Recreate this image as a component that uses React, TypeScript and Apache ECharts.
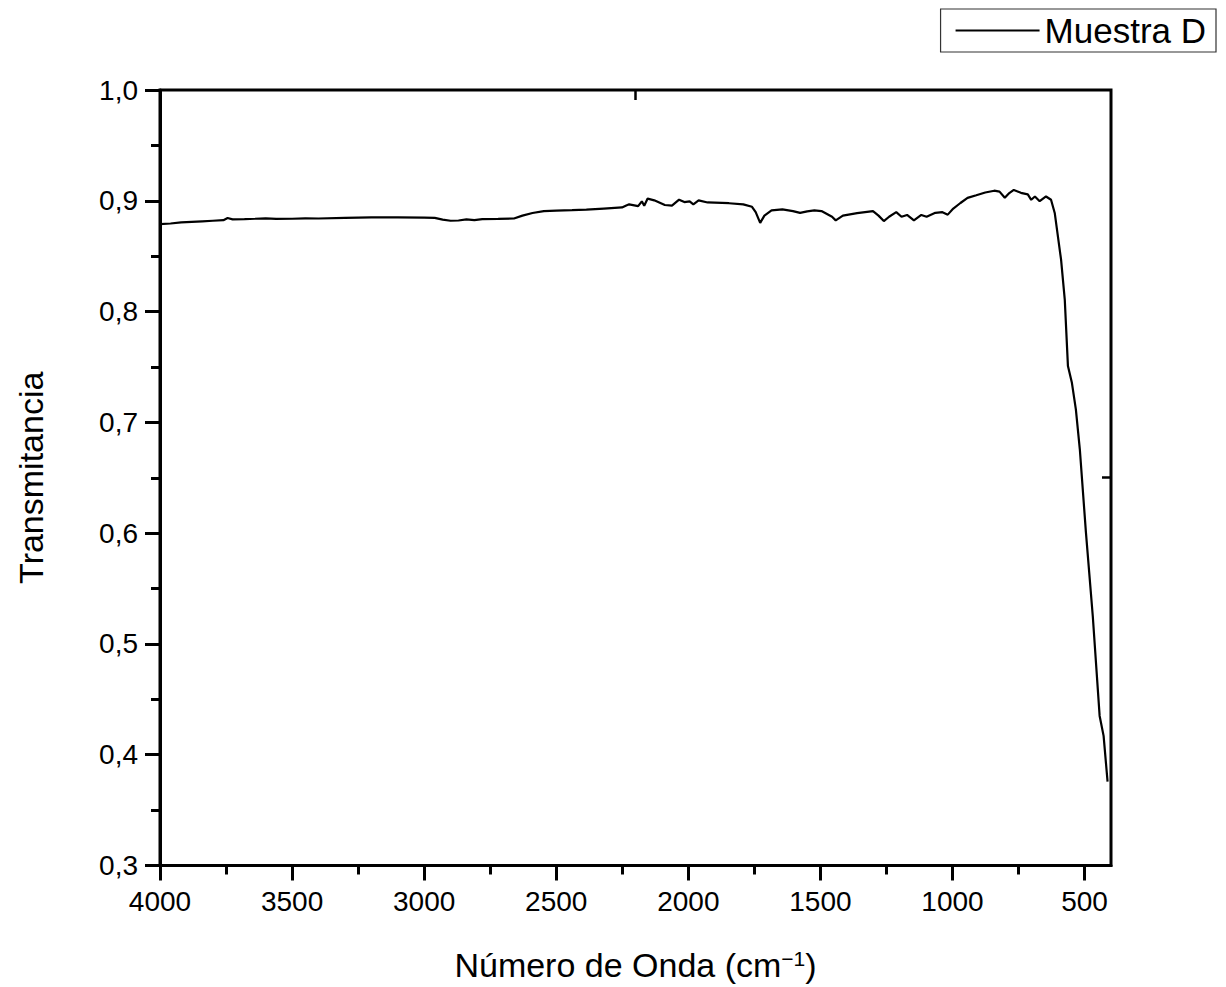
import React, { useEffect, useRef } from "react";
import * as echarts from "echarts";

const seriesName = "Muestra D";
const xTitle = "Número de Onda (cm{sup|−1})";
const yTitle = "Transmitancia";

const wavenumber = [
  4000, 3960, 3920, 3880, 3840, 3800, 3760, 3744, 3725, 3680, 3640, 3600, 3560, 3500, 3450, 3400,
  3300, 3200, 3100, 3000, 2960, 2930, 2900, 2870, 2840, 2810, 2780, 2720, 2660, 2628, 2590, 2547,
  2500, 2440, 2386, 2320, 2251, 2235, 2224, 2190, 2176, 2167, 2154, 2129, 2089, 2062, 2035, 2015,
  1995, 1981, 1961, 1927, 1846, 1792, 1759, 1745, 1728, 1712, 1685, 1644, 1604, 1577, 1550, 1523,
  1496, 1456, 1442, 1415, 1361, 1301, 1280, 1260, 1240, 1213, 1193, 1172, 1146, 1118, 1098, 1065,
  1038, 1018, 997, 970, 943, 910, 876, 842, 822, 802, 785, 768, 741, 715, 702, 688,
  670, 646, 627, 613, 601, 589, 575, 563, 548, 533, 518, 495, 469, 443, 428, 413,
];
const transmittance = [
  0.879, 0.8795, 0.8805, 0.881, 0.8815, 0.882, 0.8825, 0.8845, 0.8832, 0.8835, 0.8838, 0.8842, 0.8836, 0.8838, 0.8841, 0.884,
  0.8845, 0.885, 0.885, 0.8848, 0.8846, 0.883, 0.882, 0.8822, 0.8832, 0.8826, 0.8835, 0.8836, 0.884, 0.8866, 0.889, 0.8907,
  0.8912, 0.8915, 0.892, 0.893, 0.894, 0.8958, 0.8968, 0.8952, 0.8995, 0.8955, 0.902, 0.9004, 0.8962, 0.8956, 0.901, 0.8988,
  0.8995, 0.8968, 0.9004, 0.8985, 0.8978, 0.8968, 0.8946, 0.8897, 0.8801, 0.8866, 0.8913, 0.8923, 0.8907, 0.8891, 0.8905, 0.8913,
  0.8907, 0.8856, 0.8823, 0.8866, 0.8888, 0.8907, 0.8866, 0.8817, 0.8856, 0.8897, 0.8856, 0.8872, 0.8823, 0.8872, 0.8856, 0.8891,
  0.8897, 0.8875, 0.893, 0.898, 0.9026, 0.905, 0.9075, 0.9091, 0.9083, 0.9027, 0.907, 0.9098, 0.9072, 0.9058, 0.9009, 0.9039,
  0.8996, 0.9039, 0.9009, 0.889, 0.8679, 0.8468, 0.8108, 0.7508, 0.7357, 0.7117, 0.6757, 0.6009, 0.5252, 0.435, 0.417, 0.3757,
];

const xMajorTicks = [4000, 3500, 3000, 2500, 2000, 1500, 1000, 500];
const xMinorTicks = [3750, 3250, 2750, 2250, 1750, 1250, 750];
const xMin = 400;
const xMax = 4000;
const yMin = 0.3;
const yMax = 1.0;
const yStep = 0.1;
const topOddTick = [2200];
const rightOddTick = [0.65];

const FONT = "'Liberation Sans', Arial, sans-serif";

export default function App() {
  const ref = useRef<HTMLDivElement>(null);
  useEffect(() => {
    if (!ref.current) return;
    const chart = echarts.init(ref.current, null, { renderer: "svg" });
    const black = "#000";
    const data = wavenumber.map((w, i) => [w, transmittance[i]]);
    chart.setOption({
      animation: false,
      backgroundColor: "#fff",
      textStyle: { fontFamily: FONT, color: black },
      grid: {
        left: 160,
        right: 115,
        top: 90,
        bottom: 120,
        show: true,
        borderColor: black,
        borderWidth: 3,
        backgroundColor: "transparent",
      },
      legend: {
        data: [{ name: seriesName, icon: "rect" }],
        right: 10,
        top: 9,
        itemWidth: 84,
        itemHeight: 2,
        padding: [4, 10, 4, 15],
        borderColor: "#333",
        borderWidth: 1.2,
        itemStyle: { color: black },
        textStyle: { fontSize: 35, fontFamily: FONT, color: black },
      },
      xAxis: [
        {
          type: "value",
          min: xMin,
          max: xMax,
          inverse: true,
          position: "bottom",
          name: xTitle,
          nameLocation: "middle",
          nameGap: 82,
          nameTextStyle: {
            fontSize: 34,
            fontFamily: FONT,
            color: black,
            rich: { sup: { fontSize: 21, fontFamily: FONT, color: black, verticalAlign: "top", padding: [0, 0, 14, 0] } },
          },
          axisLine: { show: true, lineStyle: { color: black, width: 3 } },
          axisTick: { show: true, length: 15, lineStyle: { color: black, width: 3 }, customValues: xMajorTicks },
          axisLabel: {
            fontSize: 28,
            fontFamily: FONT,
            color: black,
            margin: 22,
            customValues: xMajorTicks,
            formatter: (v: number) => String(v),
          },
          splitLine: { show: false },
        },
        {
          type: "value",
          min: xMin,
          max: xMax,
          inverse: true,
          position: "bottom",
          axisLine: { show: false },
          axisTick: { show: true, length: 9, lineStyle: { color: black, width: 3 }, customValues: xMinorTicks },
          axisLabel: { show: false, customValues: xMinorTicks },
          splitLine: { show: false },
        },
        {
          type: "value",
          min: xMin,
          max: xMax,
          inverse: true,
          position: "top",
          axisLine: { show: false },
          axisTick: { show: true, inside: true, length: 10, lineStyle: { color: black, width: 2.5 }, customValues: topOddTick },
          axisLabel: { show: false, customValues: topOddTick },
          splitLine: { show: false },
        },
      ],
      yAxis: [
        {
          type: "value",
          min: yMin,
          max: yMax,
          interval: yStep,
          name: yTitle,
          nameLocation: "middle",
          nameGap: 112,
          nameTextStyle: { fontSize: 34, fontFamily: FONT, color: black },
          axisLine: { show: true, lineStyle: { color: black, width: 3 } },
          axisTick: { show: true, length: 15, lineStyle: { color: black, width: 3 } },
          minorTick: { show: true, splitNumber: 2, length: 9, lineStyle: { color: black, width: 3 } },
          axisLabel: {
            fontSize: 28,
            fontFamily: FONT,
            color: black,
            margin: 22,
            formatter: (v: number) => v.toFixed(1).replace(".", ","),
          },
          splitLine: { show: false },
          minorSplitLine: { show: false },
        },
        {
          type: "value",
          min: yMin,
          max: yMax,
          position: "right",
          axisLine: { show: false },
          axisTick: { show: true, inside: true, length: 9, lineStyle: { color: black, width: 2.5 }, customValues: rightOddTick },
          axisLabel: { show: false, customValues: rightOddTick },
          splitLine: { show: false },
        },
      ],
      series: [
        {
          name: seriesName,
          type: "line",
          xAxisIndex: 0,
          yAxisIndex: 0,
          data,
          symbol: "none",
          smooth: false,
          lineStyle: { color: black, width: 2.2 },
          itemStyle: { color: black },
        },
      ],
    });
    return () => chart.dispose();
  }, []);
  return <div ref={ref} style={{ position: "absolute", left: 0, top: 0, width: 1226, height: 987 }} />;
}
